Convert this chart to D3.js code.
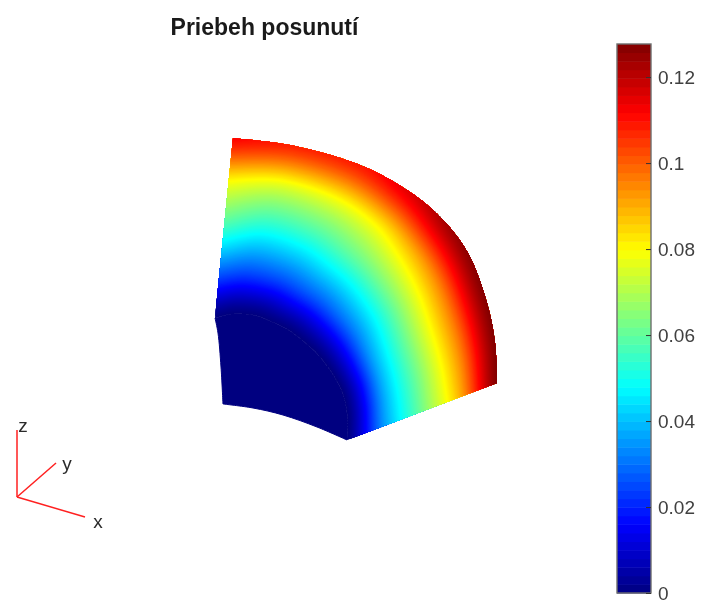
<!DOCTYPE html>
<html><head><meta charset="utf-8"><style>
html,body{margin:0;padding:0;background:#fff}
svg{display:block;filter:blur(0.55px)}
text{font-family:"Liberation Sans",Arial,sans-serif}
</style><script src="https://cdn.jsdelivr.net/npm/d3@7"></script></head><body>
<svg id="c" width="702" height="601"></svg>
<script>
const titleText = "Priebeh posunutí";
const tickValues = [0,0.02,0.04,0.06,0.08,0.1,0.12];
const valueMax = 0.1277;
const jetStops = [0,0.125,0.375,0.625,0.875,1];
const jetColors = ["#000080","#0000ff","#00ffff","#ffff00","#ff0000","#800000"];
// model-plane coordinates of the projected wedge, along the arc
const outerX = [281,279,271,254,229,194,144,79,17];
const outerY = [57,97,137,183,218,248,275,294,302];
const innerX = [131,131,124,104,77,54,37,16,-1];
const innerY = [0,27,53,83,107,119,125,126,122];
const rimLeftX = [-1,2,5,7];
const rimLeftY = [122,107,73,36];
const rimBottomX = [7,37,67,101,131];
const rimBottomY = [36,32,25,13,0];
// displacement at radial fractions along each arc station
const radial = [0,0.25,0.5,0.75,1];
const disp = [
 [0,0.0357,0.0625,0.0897,0.1277],
 [0,0.0378,0.0650,0.0928,0.1277],
 [0,0.0378,0.0660,0.0940,0.1275],
 [0,0.0338,0.0629,0.0919,0.1265],
 [0,0.0305,0.0590,0.0870,0.1230],
 [0,0.0285,0.0556,0.0805,0.1160],
 [0,0.0270,0.0522,0.0765,0.1090],
 [0,0.0258,0.0505,0.0745,0.1080],
 [0,0.0274,0.0557,0.0790,0.1120]
];
const triadAxes = ["x","y","z"];
const triadX = [68,39,0];
const triadY = [-20,34,67];

const svg = d3.select("#c");
const x = d3.scaleLinear([0,281],[216,497]);
const y = d3.scaleLinear([0,302],[440,138]);
const t = d3.scaleLinear([0,valueMax],[0,1]).clamp(true);
const jetRamp = d3.scaleLinear().domain(jetStops).range(jetColors).interpolate(d3.interpolateRgb);
const levels = 64;
const jetStep = v => jetRamp((Math.min(levels-1,Math.floor(t(v)*levels))+0.5)/levels);

function cr(a,s){ // Catmull-Rom through array a, s in 0..1
  const n=a.length-1, f=Math.min(n-1e-9,s*n), i=Math.floor(f), u=f-i;
  const p0=a[Math.max(0,i-1)],p1=a[i],p2=a[i+1],p3=a[Math.min(n,i+2)];
  return 0.5*((2*p1)+(-p0+p2)*u+(2*p0-5*p1+4*p2-p3)*u*u+(-p0+3*p1-3*p2+p3)*u*u*u);
}
const NA=160, NL=256;
function pos(r,s){
  const ox=cr(outerX,s),oy=cr(outerY,s),ix=cr(innerX,s),iy=cr(innerY,s);
  return [x(ix+(ox-ix)*r),y(iy+(oy-iy)*r)];
}
// value profile across the wedge at every arc position
const angles=d3.range(NA+1).map(a=>a/NA);
const profiles=angles.map(s=>radial.map((_,j)=>cr(disp.map(d=>d[j]),s)));
function crossing(col,L){ // radial fraction where the profile reaches level L
  if(cr(col,1)<L) return 1;
  let lo=0,hi=1;
  for(let k=0;k<14;k++){const m=(lo+hi)/2; if(cr(col,m)<L) lo=m; else hi=m;}
  return hi;
}
const outerEdge=angles.map(s=>pos(1,s)).reverse();
const fmt=p=>p[0].toFixed(2)+","+p[1].toFixed(2);
const bands=d3.range(NL).map(i=>{
  const L=i/(NL-1)*valueMax;
  const front=angles.map((s,a)=>pos(i===0?0:crossing(profiles[a],L),s));
  return {i,d:"M"+front.concat(outerEdge).map(fmt).join("L")+"Z"};
});
const gm=svg.append("g");
// rim face
const pts=(X,Y)=>X.map((d,i)=>[x(d),y(Y[i])]);
const line=d3.line().curve(d3.curveCatmullRom);
const tail=s=>s.replace(/^M[^C]*/,"");
const innerEdge=angles.map(s=>pos(0,s));
const rimD=line(pts(rimLeftX,rimLeftY))+tail(line(pts(rimBottomX,rimBottomY)))+"L"+innerEdge.map(fmt).join("L")+"Z";
gm.append("path").attr("d",rimD).attr("fill",jetColors[0]).attr("stroke",jetColors[0]).attr("stroke-width",1);
gm.selectAll("path.band").data(bands).join("path").attr("class","band")
  .attr("d",b=>b.d).attr("fill",b=>jetRamp(b.i/(NL-1)));

// title
svg.append("text").attr("x",264.5).attr("y",34.5).attr("text-anchor","middle")
  .attr("font-size",23).attr("font-weight","bold").attr("fill","#1a1a1a").text(titleText);

// colorbar
const cb=d3.scaleLinear([0,valueMax],[593,44]);
const g=svg.append("g");
const lv=d3.range(levels);
g.selectAll("rect.l").data(lv).join("rect").attr("class","l")
  .attr("x",617).attr("width",34)
  .attr("y",i=>cb((i+1)/levels*valueMax)).attr("height",i=>cb(i/levels*valueMax)-cb((i+1)/levels*valueMax)+0.5)
  .attr("fill",i=>jetStep((i+0.5)/levels*valueMax));
g.append("rect").attr("x",617).attr("y",44).attr("width",34).attr("height",549)
  .attr("fill","none").attr("stroke","#6e6e6e").attr("stroke-width",1.4);
const ax=d3.axisRight(cb).tickValues(tickValues).tickSize(-5).tickPadding(7).tickFormat(d=>String(d));
const ag=svg.append("g").attr("transform","translate(651,0)").call(ax);
ag.select(".domain").remove();
ag.selectAll("line").attr("stroke","#333");
ag.selectAll("text").attr("font-size",19).attr("fill","#404040").attr("font-family","'Liberation Sans',Arial,sans-serif");

// triad
const tx=d3.scaleLinear([0,100],[17,117]), ty=d3.scaleLinear([0,100],[497,397]);
const tg=svg.append("g");
tg.selectAll("line").data(triadAxes).join("line")
  .attr("x1",tx(0)).attr("y1",ty(0))
  .attr("x2",(d,i)=>tx(triadX[i])).attr("y2",(d,i)=>ty(triadY[i]))
  .attr("stroke","#ff2020").attr("stroke-width",1.5);
tg.selectAll("text").data(triadAxes).join("text")
  .attr("x",(d,i)=>tx(triadX[i])+[13,11,6][i]).attr("y",(d,i)=>ty(triadY[i])+[11,7,2][i])
  .attr("text-anchor","middle").attr("font-size",19).attr("fill","#2a2a2a").text(d=>d);
</script></body></html>
